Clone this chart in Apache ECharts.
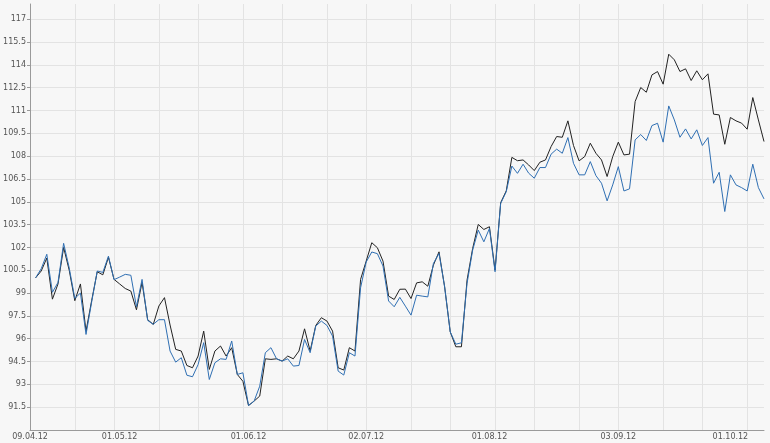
<!DOCTYPE html>
<html>
<head>
<meta charset="utf-8">
<script src="https://cdn.jsdelivr.net/npm/echarts@6/dist/echarts.min.js"></script>
<style>
html,body{margin:0;padding:0;background:#f7f7f7;}
#chart{width:770px;height:443px;}
</style>
</head>
<body>
<div id="chart"></div>
<script>
// Trading days (weekdays) per month, 2012
const tradingDays = [
  ['04', [9,10,11,12,13,16,17,18,19,20,23,24,25,26,27,30]],
  ['05', [1,2,3,4,7,8,9,10,11,14,15,16,17,18,21,22,23,24,25,28,29,30,31]],
  ['06', [1,4,5,6,7,8,11,12,13,14,15,18,19,20,21,22,25,26,27,28,29]],
  ['07', [2,3,4,5,6,9,10,11,12,13,16,17,18,19,20,23,24,25,26,27,30,31]],
  ['08', [1,2,3,6,7,8,9,10,13,14,15,16,17,20,21,22,23,24,27,28,29,30,31]],
  ['09', [3,4,5,6,7,10,11,12,13,14,17,18,19,20,21,24,25,26,27,28]],
  ['10', [1,2,3,4,5,8,9]]
];
const categories = [];
tradingDays.forEach(([m, days]) => days.forEach(d => categories.push((d < 10 ? '0' + d : '' + d) + '.' + m + '.12')));

const xTickLabels = ['09.04.12','01.05.12','01.06.12','02.07.12','01.08.12','03.09.12','01.10.12'];
const xGridDates = ['19.04.12','30.04.12','10.05.12','21.05.12','31.05.12','11.06.12','21.06.12','02.07.12','12.07.12','23.07.12','02.08.12','13.08.12','23.08.12','03.09.12','13.09.12','24.09.12','04.10.12'];

const seriesBlack = [null,
  100.0,100.45,101.3,98.6,99.6,102.0,100.5,98.5,99.6,96.5,
  98.5,100.4,100.2,101.35,99.9,99.6,99.3,99.13,97.9,99.7,
  97.25,96.94,98.15,98.7,96.9,95.3,95.19,94.24,94.09,94.86,
  96.5,93.98,95.19,95.52,94.86,95.41,93.65,93.2,91.61,91.9,
  92.23,94.68,94.64,94.68,94.53,94.86,94.68,95.19,96.65,95.19,
  96.87,97.38,97.16,96.5,94.09,93.94,95.41,95.19,99.9,101.1,
  102.31,101.98,101.1,98.8,98.58,99.25,99.26,98.64,99.67,99.74,
  99.45,100.84,101.71,99.41,96.45,95.47,95.47,99.85,101.93,103.51,
  103.18,103.36,100.51,104.94,105.72,107.92,107.7,107.75,107.42,107.05,
  107.6,107.75,108.63,109.29,109.24,110.32,108.7,107.69,107.97,108.85,
  108.19,107.75,106.66,107.97,108.92,108.08,108.13,111.59,112.51,112.2,
  113.34,113.56,112.73,114.7,114.33,113.56,113.74,112.97,113.61,113.02,
  113.41,110.76,110.71,108.78,110.54,110.32,110.17,109.77,111.85,110.38,
  108.96];

const seriesBlue = [null,
  100.0,100.6,101.55,99.05,99.7,102.27,100.65,98.65,99.0,96.28,
  98.4,100.45,100.36,101.43,99.88,100.05,100.23,100.17,98.1,99.9,
  97.2,96.95,97.25,97.25,95.19,94.46,94.75,93.6,93.5,94.3,
  95.74,93.32,94.42,94.68,94.64,95.85,93.65,93.76,91.61,91.9,
  92.88,95.08,95.41,94.68,94.53,94.68,94.2,94.24,95.95,95.08,
  96.83,97.16,96.87,96.17,93.87,93.61,95.08,94.86,99.35,101.04,
  101.7,101.59,100.78,98.48,98.1,98.72,98.14,97.55,98.86,98.8,
  98.75,100.95,101.6,99.41,96.45,95.64,95.73,99.63,101.82,103.14,
  102.37,103.25,100.4,104.89,105.66,107.35,106.87,107.47,106.88,106.55,
  107.25,107.25,108.13,108.46,108.19,109.22,107.53,106.77,106.77,107.64,
  106.72,106.22,105.06,106.11,107.31,105.71,105.85,109.07,109.42,109.03,
  110.01,110.16,108.92,111.3,110.38,109.24,109.79,109.13,109.73,108.7,
  109.22,106.22,106.94,104.36,106.77,106.11,105.93,105.71,107.47,105.93,
  105.19];

const labelSet = new Set(xTickLabels);
const gridSet = new Set(xGridDates);

const chart = echarts.init(document.getElementById('chart'), null, {renderer: 'canvas'});
chart.setOption({
  animation: false,
  backgroundColor: '#f7f7f7',
  grid: {left: 30, right: 6, top: 4, bottom: 13, containLabel: false},
  xAxis: {
    type: 'category',
    data: categories,
    boundaryGap: false,
    axisLine: {show: true, lineStyle: {color: '#9a9a9a', width: 1}},
    axisTick: {show: false},
    axisLabel: {
      interval: (idx, val) => labelSet.has(val),
      color: '#555',
      fontFamily: 'DejaVu Sans',
      fontSize: 8,
      margin: 3
    },
    splitLine: {
      show: true,
      interval: (idx, val) => gridSet.has(val),
      lineStyle: {color: '#e3e3e3', width: 1}
    }
  },
  yAxis: {
    type: 'value',
    min: 90,
    max: 118,
    interval: 1.5,
    axisLine: {show: true, lineStyle: {color: '#9a9a9a', width: 1}},
    axisTick: {show: true, length: 3, lineStyle: {color: '#9a9a9a'}},
    axisLabel: {
      showMinLabel: false,
      showMaxLabel: false,
      color: '#555',
      fontFamily: 'DejaVu Sans',
      fontSize: 8,
      margin: 4
    },
    splitLine: {
      show: true,
      showMinLine: false,
      showMaxLine: false,
      lineStyle: {color: '#e3e3e3', width: 1}
    }
  },
  series: [
    {
      name: 'A',
      type: 'line',
      data: seriesBlack,
      symbol: 'none',
      lineStyle: {color: '#222222', width: 1},
      itemStyle: {color: '#222222'},
      z: 2
    },
    {
      name: 'B',
      type: 'line',
      data: seriesBlue,
      symbol: 'none',
      lineStyle: {color: '#2f6fb3', width: 1},
      itemStyle: {color: '#2f6fb3'},
      z: 3
    }
  ]
});
</script>
</body>
</html>
